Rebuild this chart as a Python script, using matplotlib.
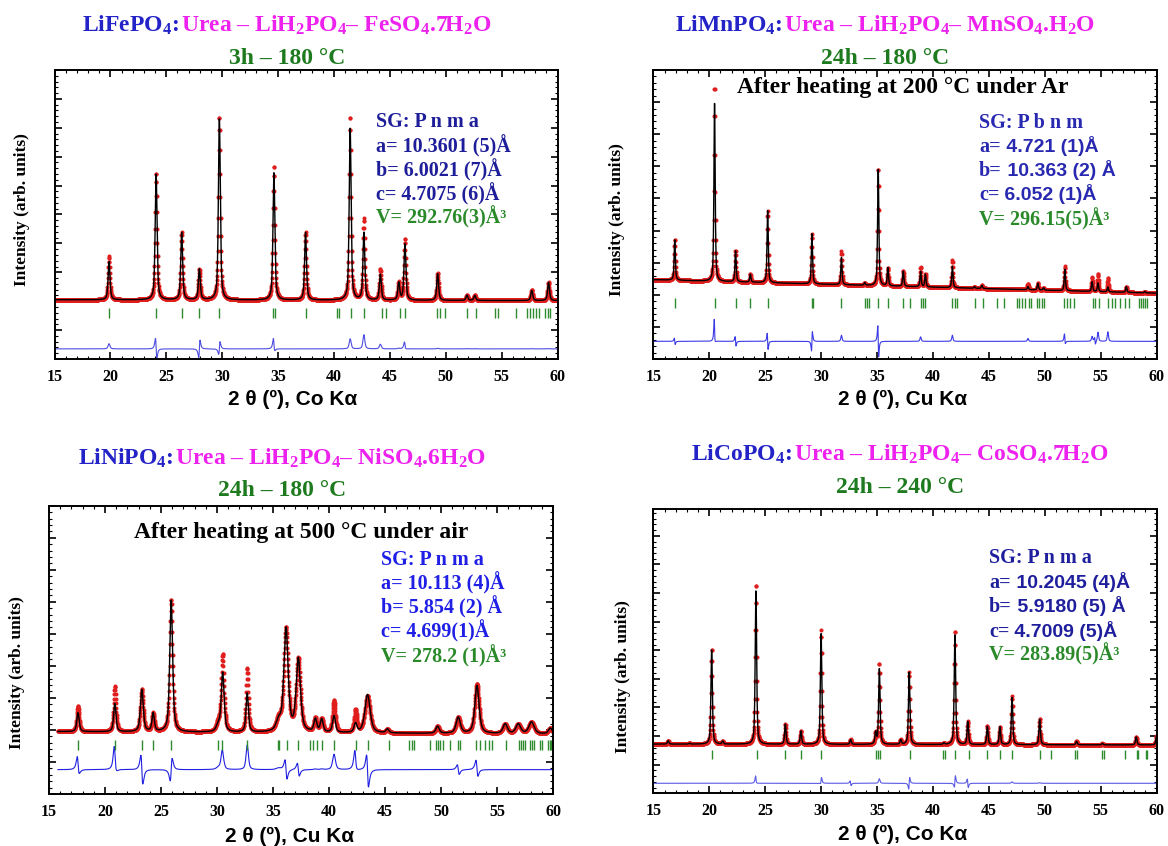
import numpy as np
import matplotlib
matplotlib.use("Agg")
import matplotlib.pyplot as plt
from matplotlib.ticker import MultipleLocator

# ---------------- data ----------------
# Panel 1: LiFePO4 (Co Ka)
fe_pos = [19.88, 24.09, 26.38, 27.96, 29.75, 34.63, 37.46, 41.45, 42.68, 44.15,
          45.8, 46.35, 49.28, 51.9, 52.6, 57.7, 59.2]
fe_calc = [1.32, 4.38, 2.33, 1.06, 6.31, 4.44, 2.34, 5.99, 2.33, 0.90,
           0.60, 1.96, 0.92, 0.18, 0.17, 0.35, 0.63]
fe_obs = [1.50, 4.40, 2.33, 1.06, 6.35, 4.64, 2.34, 6.34, 2.82, 1.06,
          0.62, 2.13, 0.94, 0.19, 0.18, 0.36, 0.64]
fe_bg = [2.05, 2.02]
fe_bragg = [19.88, 24.09, 26.38, 27.96, 29.74, 34.59, 34.69, 37.52, 40.24, 40.41,
            41.49, 42.67, 44.28, 44.62, 45.9, 46.4, 49.26, 49.5, 49.94, 51.86,
            52.7, 54.38, 54.72, 56.3, 57.24, 57.58, 57.85, 58.08, 58.32, 58.92,
            59.16, 59.33]
fe_dpos = [24.09, 27.96, 29.75, 34.63, 46.35]
fe_damp = [0.35, -0.3, -0.22, 0.2, 0.1]

# Panel 2: LiMnPO4 (Cu Ka)
mn_pos = [16.91, 20.47, 22.35, 23.67, 25.22, 29.18, 31.82, 33.9, 35.11, 35.97,
          37.35, 38.9, 39.33, 41.74, 43.72, 44.38, 48.5, 49.39, 49.9, 51.8,
          54.24, 54.77, 55.65, 57.3, 58.95]
mn_calc = [1.28, 5.65, 0.98, 0.25, 2.24, 1.56, 0.85, 0.08, 3.69, 0.57,
           0.48, 0.48, 0.40, 0.67, 0.05, 0.10, 0.10, 0.21, 0.07, 0.67,
           0.30, 0.27, 0.15, 0.18, 0.04]
mn_obs = [1.28, 6.12, 0.98, 0.25, 2.24, 1.56, 1.04, 0.08, 3.69, 0.57,
          0.48, 0.62, 0.40, 0.86, 0.05, 0.10, 0.19, 0.21, 0.07, 0.78,
          0.45, 0.56, 0.45, 0.18, 0.04]
mn_bg = [2.47, 2.05]
mn_bragg = [16.91, 20.54, 22.35, 23.67, 25.22, 29.21, 29.31, 31.82, 33.89, 34.12,
            34.29, 35.11, 35.97, 37.35, 37.95, 38.9, 39.1, 39.33, 41.74, 41.97,
            42.2, 43.78, 44.44, 45.7, 46.36, 47.51, 47.74, 47.97, 48.23, 48.56,
            48.73, 49.29, 49.49, 49.72, 49.95, 51.76, 52.03, 52.26, 52.59, 54.33,
            54.5, 54.83, 55.65, 55.98, 56.31, 56.71, 57.14, 57.53, 58.46, 58.62,
            58.79, 58.95, 59.12]
mn_dpos = [16.91, 20.47, 22.35, 25.22, 29.18, 35.11, 51.8, 54.5]
mn_damp = [0.1, 0.3, 0.15, 0.25, -0.3, 0.5, 0.15, 0.1]

# Panel 3: LiNiPO4 (Cu Ka)
ni_pos = [17.59, 20.88, 23.29, 24.3, 25.91, 30.11, 30.51, 32.7, 35.5, 36.16,
          37.26, 38.78, 39.35, 40.45, 42.37, 43.44, 45.22, 49.69, 51.54, 53.21,
          55.73, 56.9, 58.08, 59.76]
ni_calc = [0.59, 0.88, 1.32, 0.57, 4.13, 0.20, 1.85, 1.22, 0.30, 3.22,
           2.27, 0.40, 0.40, 0.52, 0.28, 1.20, 0.12, 0.22, 0.50, 1.50,
           0.30, 0.30, 0.37, 0.18]
ni_obs = [0.80, 1.42, 1.32, 0.57, 4.13, 0.25, 2.42, 1.99, 0.35, 3.22,
          2.27, 0.42, 0.42, 1.00, 0.70, 1.15, 0.12, 0.22, 0.50, 1.55,
          0.30, 0.30, 0.37, 0.18]
ni_width = [0.25, 0.25, 0.3, 0.25, 0.3, 0.4, 0.3, 0.25, 0.5, 0.45,
            0.45, 0.3, 0.3, 0.3, 0.3, 0.55, 0.3, 0.35, 0.45, 0.45,
            0.45, 0.5, 0.55, 0.4]
ni_bg = [1.95, 1.87]
ni_bragg = [17.59, 20.88, 23.29, 24.3, 25.91, 30.11, 30.45, 32.7, 35.42, 35.55,
            36.22, 37.26, 38.34, 38.57, 38.94, 39.35, 40.45, 42.37, 43.44, 45.32,
            47.17, 47.4, 47.57, 49.02, 49.59, 49.76, 49.93, 50.19, 50.76, 51.54,
            51.67, 53.11, 53.45, 53.95, 54.29, 54.56, 55.8, 56.97, 57.14, 57.31,
            57.48, 57.98, 58.15, 58.32, 58.82, 58.99, 59.59, 59.73, 59.83]
ni_dpos = [17.59, 20.88, 23.29, 25.91, 30.51, 36.16, 37.26, 42.37, 43.44, 51.54, 53.21]
ni_damp = [0.25, 0.3, 0.45, -0.35, 0.1, 0.3, 0.2, 0.25, 0.5, 0.15, 0.25]

# Panel 4: LiCoPO4 (Co Ka)
co_pos = [16.32, 18.23, 20.21, 21.2, 24.17, 26.8, 28.19, 30.0, 32.64, 34.88,
          35.21, 37.12, 37.88, 40.98, 41.97, 43.12, 44.87, 45.99, 47.08, 49.55,
          52.85, 55.16, 58.19, 60.0]
co_calc = [0.12, 0.03, 3.34, 0.10, 5.44, 0.70, 0.47, 3.87, 0.17, 0.40,
           2.68, 0.16, 2.53, 0.05, 3.89, 0.80, 0.64, 0.63, 1.65, 0.90,
           0.12, 0.05, 0.28, 0.30]
co_obs = [0.12, 0.03, 3.34, 0.10, 5.63, 0.70, 0.47, 4.00, 0.17, 0.40,
          2.84, 0.16, 2.53, 0.05, 3.98, 0.80, 0.64, 0.63, 1.70, 0.92,
          0.12, 0.05, 0.28, 0.30]
co_bg = [1.72, 1.69]
co_bragg = [20.21, 24.23, 26.8, 28.19, 30.0, 34.95, 35.11, 35.28, 37.92, 40.92,
            41.05, 41.97, 43.22, 44.87, 45.99, 47.08, 49.62, 50.54, 52.69, 52.92,
            55.16, 55.26, 57.2, 58.23, 58.36, 59.05, 59.18]
co_dpos = [24.17, 30.0, 32.64, 37.88, 41.97, 43.12]
co_damp = [0.1, -0.1, 0.08, -0.2, -0.2, 0.15]

# Text content
titles = [
    ("LiFePO$_\\mathbf{4}$: ", "Urea – LiH$_\\mathbf{2}$PO$_\\mathbf{4}$– FeSO$_\\mathbf{4}$.7H$_\\mathbf{2}$O", "3h – 180 °C"),
    ("LiMnPO$_\\mathbf{4}$: ", "Urea – LiH$_\\mathbf{2}$PO$_\\mathbf{4}$– MnSO$_\\mathbf{4}$.H$_\\mathbf{2}$O", "24h – 180 °C"),
    ("LiNiPO$_\\mathbf{4}$: ", "Urea – LiH$_\\mathbf{2}$PO$_\\mathbf{4}$– NiSO$_\\mathbf{4}$.6H$_\\mathbf{2}$O", "24h – 180 °C"),
    ("LiCoPO$_\\mathbf{4}$: ", "Urea – LiH$_\\mathbf{2}$PO$_\\mathbf{4}$– CoSO$_\\mathbf{4}$.7H$_\\mathbf{2}$O", "24h – 240 °C"),
]
sg_labels = ["SG: P n m a", "SG: P b n m", "SG: P n m a", "SG: P n m a"]
cell_a = ["10.3601 (5)Å", "4.721 (1)Å", "10.113 (4)Å", "10.2045 (4)Å"]
cell_b = ["6.0021 (7)Å", "10.363 (2) Å", "5.854 (2) Å", "5.9180 (5) Å"]
cell_c = ["4.7075 (6)Å", "6.052 (1)Å", "4.699(1)Å", "4.7009 (5)Å"]
cell_v = ["292.76(3)Å³", "296.15(5)Å³", "278.2 (1)Å³", "283.89(5)Å³"]
xlabels = ["2 θ (º), Co Kα", "2 θ (º), Cu Kα", "2 θ (º), Cu Kα", "2 θ (º), Co Kα"]
notes = [None, "After heating at 200 °C under Ar", "After heating at 500 °C under air", None]

# ---------------- style ----------------
plt.rcParams["font.family"] = ["Liberation Serif", "DejaVu Serif"]
plt.rcParams["font.weight"] = "bold"
plt.rcParams["mathtext.fontset"] = "custom"
plt.rcParams["mathtext.rm"] = "Liberation Serif:bold"
plt.rcParams["mathtext.bf"] = "Liberation Serif:bold"
plt.rcParams["mathtext.it"] = "Liberation Serif:bold:italic"

W, H = 1168, 846
fig = plt.figure(figsize=(W / 100, H / 100), dpi=100)

BLUE_T = "#2323c8"
MAG = "#ee22ee"
GREEN_T = "#1e7a1e"
GREEN_V = "#2a8a2a"
RED = "#e01e1e"
BRAGG = "#2e8b2e"


def fx(x):
    return x / W


def fy(y):
    return 1 - y / H


def pv(x, p, h, w):
    u = (x - p) / w
    return h * (0.6 / (1 + 4 * u * u) + 0.4 * np.exp(-4 * np.log(2) * u * u))


def dlor(x, p, a, w):
    u = 2 * (x - p) / w
    return -a * (2 * u / (1 + u * u) ** 2) / 0.6495


panels = [
    dict(rect=(54.5, 70, 557.5, 359), ytop=10, pos=fe_pos, calc=fe_calc, obs=fe_obs, w=0.2,
         bg=fe_bg, bragg=fe_bragg, by=(1.42, 1.76), dpos=fe_dpos, damp=fe_damp, doff=0.35,
         x0=15.0, dcol="#4d4de0", sgcol="#1e1e9a", cx=287, ty=(31.5, 63.5),
         sgx=376, sgy=[122, 147, 171, 195, 218], sans=False, ylx=22, yly=210,
         xlx=293, xly=399),
    dict(rect=(653.4, 70, 1156.5, 359), ytop=9, pos=mn_pos, calc=mn_calc, obs=mn_obs, w=0.13,
         bg=mn_bg, bragg=mn_bragg, by=(1.59, 1.90), dpos=mn_dpos, damp=mn_damp, doff=0.55,
         x0=15.0, dcol="#3a3ae6", sgcol="#2828b0", cx=885, ty=(31.5, 63.5),
         sgx=979, sgy=[123, 147, 171, 195, 220], sans=True, ylx=617, yly=220,
         xlx=903, xly=399, note=(903, 87)),
    dict(rect=(49, 505.7, 553, 794), ytop=9, pos=ni_pos, calc=ni_calc, obs=ni_obs, w=ni_width,
         bg=ni_bg, bragg=ni_bragg, by=(1.38, 1.69), dpos=ni_dpos, damp=ni_damp, doff=0.76,
         x0=15.8, dcol="#2020e0", sgcol="#1f1fe6", cx=282, ty=(464.5, 495.5),
         sgx=381, sgy=[560, 584, 608, 632, 657], sans=False, ylx=17, yly=673,
         xlx=290, xly=836, note=(301, 532)),
    dict(rect=(653.4, 509.3, 1156.5, 793.3), ytop=9.93, pos=co_pos, calc=co_calc, obs=co_obs, w=0.15,
         bg=co_bg, bragg=co_bragg, by=(1.19, 1.51), dpos=co_dpos, damp=co_damp, doff=0.35,
         x0=15.0, dcol="#5a5ae6", sgcol="#1f1f9e", cx=900, ty=(460.5, 492.5),
         sgx=989, sgy=[558, 583, 607, 632, 655], sans=True, ylx=623, yly=677,
         xlx=903, xly=834),
]

TITLE_FS = 17
NOTE_FS = 17
SG_FS = 14.5

groups = []  # (list of texts, anchor x, mode)

for i, P in enumerate(panels):
    l, t, r, b = P["rect"]
    ax = fig.add_axes([fx(l), fy(b), fx(r - l), (b - t) / H])
    x = np.arange(P["x0"], 60.0001, 0.02)
    bg = P["bg"][0] + (P["bg"][1] - P["bg"][0]) * (x - 15) / 45
    widths = P["w"] if isinstance(P["w"], list) else [P["w"]] * len(P["pos"])
    calc = bg.copy()
    obs = bg.copy()
    diff = np.full_like(x, P["doff"])
    for p, hc, ho, w in zip(P["pos"], P["calc"], P["obs"], widths):
        calc += pv(x, p, hc, w)
        obs += pv(x, p, ho, w)
    wd = widths[0] if not isinstance(P["w"], list) else 0.3
    for p, a in zip(P["dpos"], P["damp"]):
        diff += dlor(x, p, a, wd)
    diff += obs - calc

    ax.plot(x, obs, "o", ms=2.9, mew=0, color=RED, zorder=2)
    ax.plot(x, calc, "-", lw=1.0, color="black", zorder=3)
    ax.plot(x, diff, "-", lw=0.8, color=P["dcol"], zorder=2)
    ax.vlines(P["bragg"], P["by"][0], P["by"][1], color=BRAGG, lw=1.0, zorder=2)

    ax.set_xlim(15, 60)
    ax.set_ylim(0, P["ytop"])
    ax.set_xticks(np.arange(15, 61, 5))
    ax.xaxis.set_minor_locator(MultipleLocator(1))
    ax.set_yticks(np.arange(0, P["ytop"] + 0.01, 1))
    ax.yaxis.set_minor_locator(MultipleLocator(0.2))
    ax.tick_params(which="both", direction="in", top=True, right=True, labelleft=False)
    ax.tick_params(which="major", length=5, width=1.2, labelsize=11.5, pad=7)
    ax.tick_params(which="minor", length=2.5, width=0.8)
    for s in ax.spines.values():
        s.set_linewidth(1.4)

    # titles
    blue, mag, temp = titles[i]
    t1 = fig.text(0, fy(P["ty"][0]), blue, color=BLUE_T, fontsize=TITLE_FS, ha="left", va="baseline")
    t2 = fig.text(0, fy(P["ty"][0]), mag, color=MAG, fontsize=TITLE_FS, ha="left", va="baseline")
    groups.append(([t1, t2], P["cx"], "center"))
    fig.text(fx(P["cx"]), fy(P["ty"][1]), temp, color=GREEN_T, fontsize=TITLE_FS,
             ha="center", va="baseline")

    # labels
    fig.text(fx(P["ylx"]), fy(P["yly"]), "Intensity (arb. units)", rotation=90,
             fontsize=12.5, ha="center", va="center")
    fig.text(fx(P["xlx"]), fy(P["xly"]), xlabels[i], family="Liberation Sans",
             fontsize=15, ha="center", va="center")

    if notes[i] is not None:
        fig.text(fx(P["note"][0]), fy(P["note"][1]), notes[i], fontsize=NOTE_FS,
                 color="black", ha="center", va="center")

    # cell parameters
    sgc = P["sgcol"]
    fig.text(fx(P["sgx"]), fy(P["sgy"][0]), sg_labels[i], color=sgc, fontsize=SG_FS,
             ha="left", va="center")
    for k, (pre, val) in enumerate(zip(["a=", "b=", "c="], [cell_a[i], cell_b[i], cell_c[i]])):
        yy = fy(P["sgy"][k + 1] + 5)
        if P["sans"]:
            ta = fig.text(0, yy, pre, color=sgc, fontsize=SG_FS, ha="left", va="baseline")
            tb = fig.text(0, yy, " " + val, color=sgc, fontsize=SG_FS - 0.5,
                          family="Liberation Sans", ha="left", va="baseline")
            groups.append(([ta, tb], P["sgx"], "left"))
        else:
            fig.text(fx(P["sgx"]), yy, pre + " " + val, color=sgc, fontsize=SG_FS,
                     ha="left", va="baseline")
    fig.text(fx(P["sgx"]), fy(P["sgy"][4] + 5), "V= " + cell_v[i], color=GREEN_V,
             fontsize=SG_FS, ha="left", va="baseline")

# position chained multi-colour texts
fig.canvas.draw()
renderer = fig.canvas.get_renderer()
for texts, ax_x, mode in groups:
    widths = [tt.get_window_extent(renderer).width for tt in texts]
    total = sum(widths)
    start = ax_x - total / 2 if mode == "center" else ax_x
    cur = start
    for tt, wdt in zip(texts, widths):
        tt.set_x(fx(cur))
        cur += wdt

fig.savefig("out.png", dpi=100)
